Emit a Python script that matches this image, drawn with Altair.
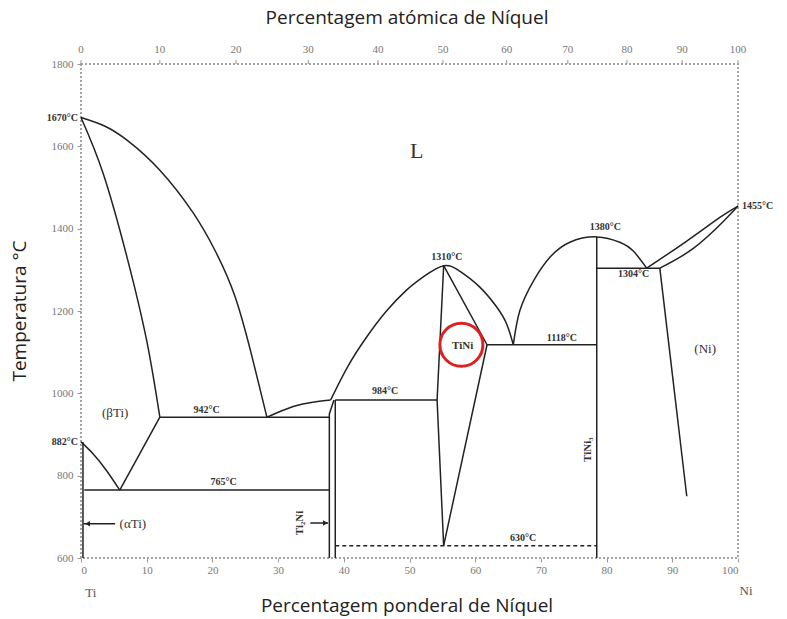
import altair as alt
import pandas as pd

# ---------------- data (wt% Ni, temperature °C) ----------------
liq_ti_x = [0, 3.5, 7.0, 12.0, 17.0, 20.4, 23.4, 26.0, 28.3]
liq_ti_T = [1670, 1650, 1615, 1542, 1440, 1347, 1237, 1091, 942]

sol_b_x = [0, 3.4, 7.0, 10.0, 12.0]
sol_b_T = [1670, 1533, 1331, 1128, 942]

ab_x = [0, 1.9, 3.9, 5.9]
ab_T = [882, 852, 812, 765]

eut_per_x = [28.3, 32.3, 35.5, 38.0]
eut_per_T = [942, 968, 979, 984]

dome_tini_x = [38.0, 40.6, 43.4, 46.4, 49.5, 52.2, 55.2, 57.7, 60.7, 63.3, 64.8, 65.8]
dome_tini_T = [984, 1065, 1135, 1198, 1250, 1284, 1310, 1296, 1258, 1209, 1168, 1118]

dome_tini3_x = [65.8, 66.8, 68.9, 71.4, 74.4, 78.5, 82.0, 84.1, 86.1]
dome_tini3_T = [1118, 1201, 1274, 1331, 1367, 1380, 1367, 1345, 1304]

liq_ni_x = [86.1, 92.2, 97.3, 100]
liq_ni_T = [1304, 1370, 1428, 1455]

sol_ni_x = [88.1, 93.2, 97.8, 100]
sol_ni_T = [1304, 1352, 1418, 1455]

# straight segments
straight = {
    "b_solvus": ([12.0, 5.9], [942, 765]),
    "a_solvus": ([0.3, 0.3], [882, 600]),
    "eutectoid": ([0.5, 37.8], [765, 765]),
    "eutectic942": ([12.0, 37.8], [942, 942]),
    "ti2ni_left": ([37.8, 37.8, 38.5], [600, 950, 984]),
    "ti2ni_right": ([38.7, 38.7], [984, 600]),
    "peritectic984": ([38.7, 54.2], [984, 984]),
    "tini_left": ([55.2, 54.2, 55.2], [1310, 984, 630]),
    "tini_right": ([55.2, 61.8, 55.2], [1310, 1118, 630]),
    "eutectic1118": ([61.8, 78.5], [1118, 1118]),
    "tini3": ([78.5, 78.5], [1380, 600]),
    "eutectic1304": ([78.5, 88.1], [1304, 1304]),
    "ni_solvus": ([88.1, 92.2], [1304, 750]),
    "arrow_a": ([0.4, 5.2], [683, 683]),
    "arrow_ti2ni": ([34.9, 37.6], [685, 685]),
}
dashed_x = [38.7, 78.5]
dashed_T = [630, 630]

curves = {
    "liq_ti": (liq_ti_x, liq_ti_T),
    "sol_b": (sol_b_x, sol_b_T),
    "ab": (ab_x, ab_T),
    "eut_per": (eut_per_x, eut_per_T),
    "dome_tini": (dome_tini_x, dome_tini_T),
    "dome_tini3": (dome_tini3_x, dome_tini3_T),
    "liq_ni": (liq_ni_x, liq_ni_T),
    "sol_ni": (sol_ni_x, sol_ni_T),
}

label_text = ["942°C", "765°C", "984°C", "1310°C", "1118°C", "1380°C", "1304°C", "630°C"]
label_x = [19.1, 21.7, 46.3, 55.7, 73.2, 79.8, 84.1, 67.3]
label_T = [960, 784, 1005, 1330, 1135, 1403, 1291, 648]

phase_text = ["(βTi)", "(αTi)", "(Ni)"]
phase_x = [5.2, 7.9, 95.0]
phase_T = [952, 683, 1107]

rot_text = ["TiNi₃", "Ti₂Ni"]
rot_x = [77.2, 33.3]
rot_T = [863, 685]

top_wt = [0, 12.0, 23.6, 34.6, 45.2, 55.1, 64.8, 74.1, 83.1, 91.5, 100]
top_at = ["0", "10", "20", "30", "40", "50", "60", "70", "80", "90", "100"]

# ---------------- build tables ----------------
def to_rows(dct):
    rows = []
    for name, (xs_, ts) in dct.items():
        for i, (x, t) in enumerate(zip(xs_, ts)):
            rows.append({"seg": name, "i": i, "x": x, "T": t})
    return pd.DataFrame(rows)

curve_df = to_rows(curves)
straight_df = to_rows(straight)
dash_df = pd.DataFrame({"seg": "d", "i": [0, 1], "x": dashed_x, "T": dashed_T})
lab_df = pd.DataFrame({"x": label_x, "T": label_T, "t": label_text})
ph_df = pd.DataFrame({"x": phase_x, "T": phase_T, "t": phase_text})
rot_df = pd.DataFrame({"x": rot_x, "T": rot_T, "t": rot_text})
top_df = pd.DataFrame({"x": top_wt, "t": top_at})

xs = alt.Scale(domain=[0, 100], nice=False, zero=False)
ys = alt.Scale(domain=[600, 1800], nice=False, zero=False)

LINE = "#222222"
SERIF = "Liberation Serif"
SANS = "Open Sans"

base_x = alt.X("x:Q", scale=xs, axis=alt.Axis(
    values=list(range(0, 101, 10)), title=None, grid=False, domain=False,
    tickSize=4, tickColor="#999", labelFont=SERIF, labelFontSize=11,
    labelColor="#777", labelPadding=2, format="d"))
base_y = alt.Y("T:Q", scale=ys, axis=alt.Axis(
    values=list(range(600, 1801, 200)), title=None, grid=False, domain=False,
    tickSize=4, tickColor="#999", labelFont=SERIF, labelFontSize=11,
    labelColor="#777", labelPadding=4, format="d"))

curve_layer = alt.Chart(curve_df).mark_line(
    color=LINE, strokeWidth=1.5, interpolate="natural").encode(
    x=base_x, y=base_y, detail="seg:N", order="i:Q")

straight_layer = alt.Chart(straight_df).mark_line(
    color=LINE, strokeWidth=1.5).encode(
    x=alt.X("x:Q", scale=xs), y=alt.Y("T:Q", scale=ys),
    detail="seg:N", order="i:Q",
    strokeWidth=alt.condition(alt.datum.seg == "a_solvus", alt.value(3), alt.value(1.5)))

dash_layer = alt.Chart(dash_df).mark_line(
    color=LINE, strokeWidth=1.5, strokeDash=[4, 3]).encode(
    x=alt.X("x:Q", scale=xs), y=alt.Y("T:Q", scale=ys), order="i:Q")

arrow_df = pd.DataFrame({"x": [1.0, 37.2], "T": [683, 685],
                         "s": ["triangle-left", "triangle-right"]})
arrow_layer = alt.Chart(arrow_df).mark_point(
    filled=True, color=LINE, size=30, opacity=1).encode(
    x=alt.X("x:Q", scale=xs), y=alt.Y("T:Q", scale=ys),
    shape=alt.Shape("s:N", scale=None))

lab_layer = alt.Chart(lab_df).mark_text(
    font=SERIF, fontSize=10, fontWeight="bold", color="#333", baseline="middle").encode(
    x=alt.X("x:Q", scale=xs), y=alt.Y("T:Q", scale=ys), text="t:N")

ph_layer = alt.Chart(ph_df).mark_text(
    font=SERIF, fontSize=13, color="#333", baseline="middle").encode(
    x=alt.X("x:Q", scale=xs), y=alt.Y("T:Q", scale=ys), text="t:N")

rot_layer = alt.Chart(rot_df).mark_text(
    font=SERIF, fontSize=11, fontWeight="bold", color="#333", baseline="middle",
    angle=270).encode(
    x=alt.X("x:Q", scale=xs), y=alt.Y("T:Q", scale=ys), text="t:N")

tini_df = pd.DataFrame({"x": [58.1], "T": [1116], "t": ["TiNi"]})
tini_layer = alt.Chart(tini_df).mark_text(
    font=SERIF, fontSize=11, fontWeight="bold", color="#333", baseline="middle").encode(
    x=alt.X("x:Q", scale=xs), y=alt.Y("T:Q", scale=ys), text="t:N")

circle_df = pd.DataFrame({"x": [57.9], "T": [1118]})
circle_layer = alt.Chart(circle_df).mark_point(
    shape="circle", size=1850, color="#e02020", strokeWidth=3, filled=False, opacity=1).encode(
    x=alt.X("x:Q", scale=xs), y=alt.Y("T:Q", scale=ys))

L_df = pd.DataFrame({"x": [51.1], "T": [1589], "t": ["L"]})
L_layer = alt.Chart(L_df).mark_text(
    font=SERIF, fontSize=22, color="#333", baseline="middle").encode(
    x=alt.X("x:Q", scale=xs), y=alt.Y("T:Q", scale=ys), text="t:N")

left_df = pd.DataFrame({"T": [1670, 882], "t": ["1670°C", "882°C"]})
left_layer = alt.Chart(left_df).mark_text(
    font=SERIF, fontSize=10, fontWeight="bold", color="#333", baseline="middle",
    align="right", dx=-3).encode(
    x=alt.value(0), y=alt.Y("T:Q", scale=ys), text="t:N")

right_df = pd.DataFrame({"T": [1455], "t": ["1455°C"]})
right_layer = alt.Chart(right_df).mark_text(
    font=SERIF, fontSize=10, fontWeight="bold", color="#333", baseline="middle",
    align="left", dx=4).encode(
    x=alt.value(657), y=alt.Y("T:Q", scale=ys), text="t:N")

top_lab = alt.Chart(top_df).mark_text(
    font=SERIF, fontSize=11, color="#777", baseline="middle").encode(
    x=alt.X("x:Q", scale=xs), y=alt.value(-14), text="t:N")
top_tick = alt.Chart(top_df).mark_rule(color="#999", strokeWidth=1).encode(
    x=alt.X("x:Q", scale=xs), y=alt.value(-4), y2=alt.value(0))

ti_df = pd.DataFrame({"x": [1.5], "t": ["Ti"]})
ti_layer = alt.Chart(ti_df).mark_text(
    font=SERIF, fontSize=13, color="#555", baseline="middle").encode(
    x=alt.X("x:Q", scale=xs), y=alt.value(529), text="t:N")
ni_df = pd.DataFrame({"x": [100], "t": ["Ni"]})
ni_layer = alt.Chart(ni_df).mark_text(
    font=SERIF, fontSize=13, color="#555", baseline="middle", dx=8).encode(
    x=alt.X("x:Q", scale=xs), y=alt.value(527), text="t:N")

top_title_df = pd.DataFrame({"t": ["Percentagem atómica de Níquel"]})
top_title = alt.Chart(top_title_df).mark_text(
    font=SANS, fontSize=19, color="#222", baseline="middle").encode(
    x=alt.value(326), y=alt.value(-46), text="t:N")
bot_title_df = pd.DataFrame({"t": ["Percentagem ponderal de Níquel"]})
bot_title = alt.Chart(bot_title_df).mark_text(
    font=SANS, fontSize=19, color="#222", baseline="middle").encode(
    x=alt.value(326), y=alt.value(542), text="t:N")

ytitle_df = pd.DataFrame({"t": ["Temperatura °C"]})
ytitle_layer = alt.Chart(ytitle_df).mark_text(
    font=SANS, fontSize=19, color="#222", baseline="middle", angle=270).encode(
    x=alt.value(-61), y=alt.value(247), text="t:N")

chart = alt.layer(
    curve_layer, straight_layer, dash_layer, arrow_layer, lab_layer, ph_layer,
    rot_layer, tini_layer, circle_layer, L_layer, left_layer, right_layer,
    top_lab, top_tick, ti_layer, ni_layer, top_title, bot_title, ytitle_layer
).properties(
    width=657, height=494,
    autosize=alt.AutoSizeParams(type="none"),
    padding={"left": 81, "top": 64, "right": 49, "bottom": 61},
    background="white",
).configure_view(
    stroke="#888", strokeDash=[2, 2], strokeWidth=1.5
)

chart.save("out.html", embed_options={"renderer": "svg", "actions": False})
